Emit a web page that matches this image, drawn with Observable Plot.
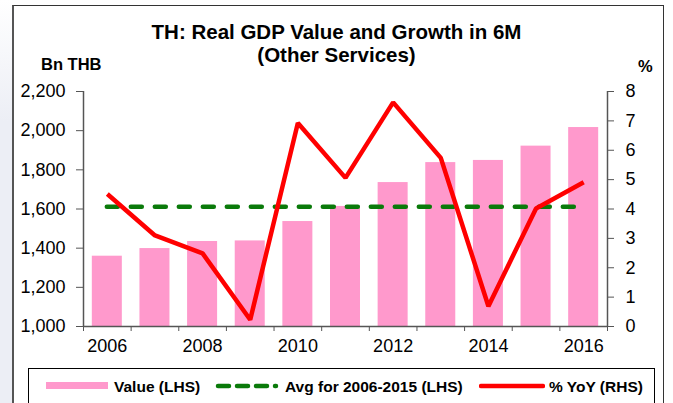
<!DOCTYPE html>
<html>
<head>
<meta charset="utf-8">
<script src="https://cdn.jsdelivr.net/npm/d3@7"></script>
<script src="https://cdn.jsdelivr.net/npm/@observablehq/plot@0.6"></script>
<style>
  html, body { margin: 0; padding: 0; background: #ffffff; }
  #wrap { position: relative; width: 673px; height: 403px; overflow: hidden; font-family: "Liberation Sans", Arial, sans-serif; color: #000; }
  #strip { position: absolute; left: 0; top: 0; width: 12px; height: 403px; background: linear-gradient(#ffffff, #eceef5 30%, #eceef5); }
  #frame { position: absolute; left: 12px; top: 5px; width: 649px; height: 410px; border: 1.5px solid #333; border-left: 2px solid #555; }
  #title { position: absolute; left: 0; width: 673px; top: 20px; text-align: center; font-weight: bold; font-size: 20.5px; line-height: 23px; }
  #lunit { position: absolute; left: 41px; top: 55px; font-weight: bold; font-size: 16.5px; }
  #runit { position: absolute; left: 638px; top: 57px; font-weight: bold; font-size: 16.5px; }
  #chart { position: absolute; left: 0; top: 70px; }
  #legend { position: absolute; left: 28px; top: 368px; width: 625px; height: 36px; border: 1.5px solid #000; background: #fff; }
  .li { position: absolute; top: 9px; font-weight: bold; font-size: 15.5px; white-space: nowrap; }
  .sw { position: absolute; }
</style>
</head>
<body>
<div id="wrap">
  <div id="strip"></div>
  <div id="frame"></div>
  <div id="title">TH: Real GDP Value and Growth in 6M<br>(Other Services)</div>
  <div id="lunit">Bn THB</div>
  <div id="runit">%</div>
  <div id="chart"></div>
  <div id="legend">
    <svg class="sw" style="left:17px;top:13px" width="62" height="8"><rect x="0" y="0" width="62" height="7" fill="#ff99cc"/></svg>
    <div class="li" style="left:85px">Value (LHS)</div>
    <svg class="sw" style="left:186px;top:13px" width="64" height="8"><line x1="3" y1="4" x2="61" y2="4" stroke="#0a7a0a" stroke-width="4.5" stroke-dasharray="11,8" stroke-linecap="round"/></svg>
    <div class="li" style="left:256px">Avg for 2006-2015 (LHS)</div>
    <svg class="sw" style="left:450px;top:13px" width="66" height="8"><line x1="2" y1="4" x2="64" y2="4" stroke="#ff0000" stroke-width="4.5" stroke-linecap="round"/></svg>
    <div class="li" style="left:520px">% YoY (RHS)</div>
  </div>
</div>
<script>
// ---- data ----
const years = [2006, 2007, 2008, 2009, 2010, 2011, 2012, 2013, 2014, 2015, 2016];
const values = [1359, 1398, 1434, 1437, 1536, 1613, 1735, 1837, 1848, 1921, 2016]; // Bn THB (LHS)
const yoy = [4.51, 3.10, 2.49, 0.23, 6.93, 5.06, 7.63, 5.74, 0.69, 4.02, 4.91];     // % YoY (RHS)
const avgValue = 1612;        // Avg for 2006-2015 (LHS)
const avgSpan = [2006, 2016];
const leftTicks = [1000, 1200, 1400, 1600, 1800, 2000, 2200];
const rightTicks = [0, 1, 2, 3, 4, 5, 6, 7, 8];
const xLabels = [2006, 2008, 2010, 2012, 2014, 2016];

// ---- derived tables ----
const leftDomain = [leftTicks[0], leftTicks[leftTicks.length - 1]];
const rightDomain = [rightTicks[0], rightTicks[rightTicks.length - 1]];
const toLeft = v => leftDomain[0] + (v - rightDomain[0]) / (rightDomain[1] - rightDomain[0]) * (leftDomain[1] - leftDomain[0]);
const fromLeft = v => rightDomain[0] + (v - leftDomain[0]) / (leftDomain[1] - leftDomain[0]) * (rightDomain[1] - rightDomain[0]);
const rows = years.map((y, i) => ({year: y, value: values[i], yoy: yoy[i]}));
const xDomain = [years[0] - 0.5, years[years.length - 1] + 0.5];
const bandEdges = d3.range(xDomain[0], xDomain[1] + 0.01, 1);
const halfBar = 0.315;

const chart = Plot.plot({
  width: 673,
  height: 300,
  marginTop: 21,
  marginBottom: 44,
  marginLeft: 83,
  marginRight: 66,
  style: {fontFamily: '"Liberation Sans", Arial, sans-serif', fontSize: "18px", color: "#000", background: "transparent", overflow: "visible"},
  x: {type: "linear", domain: xDomain},
  y: {domain: leftDomain},
  marks: [
    Plot.rect(rows, {x1: d => d.year - halfBar, x2: d => d.year + halfBar, y1: () => leftDomain[0], y2: "value", fill: "#ff99cc"}),
    Plot.ruleY([avgValue], {x1: avgSpan[0], x2: avgSpan[1], stroke: "#0a7a0a", strokeWidth: 4.5, strokeDasharray: "11,13", strokeLinecap: "round"}),
    Plot.line(rows, {x: "year", y: d => toLeft(d.yoy), stroke: "#ff0000", strokeWidth: 4.5, strokeLinejoin: "miter", strokeLinecap: "butt"}),
    // axis lines
    Plot.ruleX([xDomain[0], xDomain[1]], {y1: leftDomain[0], y2: leftDomain[1], stroke: "#555", strokeWidth: 1.5}),
    Plot.ruleY([leftDomain[0]], {x1: xDomain[0], x2: xDomain[1], stroke: "#555", strokeWidth: 1.5}),
    // left axis
    Plot.axisY({anchor: "left", ticks: leftTicks, tickFormat: d3.format(","), tickSize: 7, tickPadding: 11, label: null, stroke: "#555"}),
    // right axis
    Plot.axisY({anchor: "right", ticks: rightTicks.map(toLeft), tickFormat: d => d3.format("d")(Math.round(fromLeft(d))), tickSize: 6, tickPadding: 12, label: null, stroke: "#555"}),
    // bottom axis: ticks at band edges, labels at band centres
    Plot.axisX({anchor: "bottom", ticks: bandEdges, tickFormat: () => "", tickSize: 5, label: null, stroke: "#555"}),
    Plot.axisX({anchor: "bottom", ticks: xLabels, tickFormat: d3.format("d"), tickSize: 0, tickPadding: 13, label: null})
  ]
});
document.getElementById("chart").appendChild(chart);
</script>
</body>
</html>
